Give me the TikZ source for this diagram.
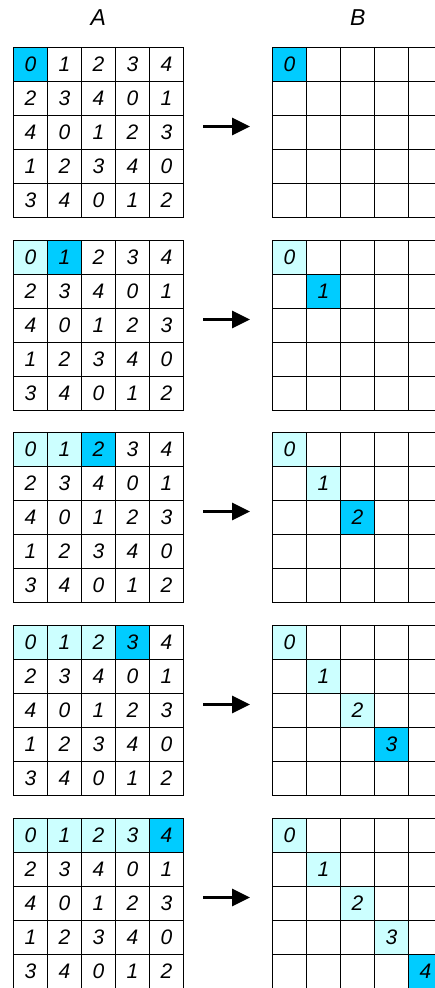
\documentclass[tikz,border=0pt]{standalone}
\usepackage{fontspec}
\setmainfont{Liberation Sans}
\usetikzlibrary{arrows.meta}
\definecolor{hi}{RGB}{0,204,255}
\definecolor{lo}{RGB}{204,255,255}
\tikzset{
  cell/.style={draw=black, line width=1.1pt, minimum size=34pt, inner sep=0pt,
    font=\fontsize{21}{21}\selectfont\itshape, anchor=center},
  f0/.style={fill=white},
  f1/.style={fill=lo},
  f2/.style={fill=hi},
  title/.style={font=\fontsize{23}{23}\selectfont\itshape},
  moveArrow/.style={line width=3.3pt, -{Triangle[length=18pt,width=17pt]}}
}
\begin{document}
\begin{tikzpicture}[x=1pt,y=-1pt]
\useasboundingbox (0,0) rectangle (434,988);
\node[title] (labA) at (98.3,18) {A};
\node[title] (labB) at (357.7,18) {B};
\foreach \k/\T in {0/47.5,1/240.5,2/432.5,3/625.5,4/818.5} {
  \foreach \r in {0,...,4} {
    \foreach \c in {0,...,4} {
      \pgfmathtruncatemacro\v{mod(\c+2*\r,5)}
      \pgfmathtruncatemacro\s{(\r==0)*((\c<\k)+2*(\c==\k))}
      \pgfmathtruncatemacro\sb{(\r==\c)*((\c<\k)+2*(\c==\k))}
      \node[cell, f\s] (a\k-\r-\c) at (13.5+34*\c+17, \T+34*\r+17) {\v};
      \node[cell, f\sb] (b\k-\r-\c) at (272.5+34*\c+17, \T+34*\r+17) {\ifnum\sb>0 \c\fi};
    }
  }
  \coordinate (s\k) at (203.3, \T+79);
  \coordinate (e\k) at (250, \T+79);
  \draw[moveArrow] (s\k) -- (e\k);
}
\end{tikzpicture}
\end{document}
